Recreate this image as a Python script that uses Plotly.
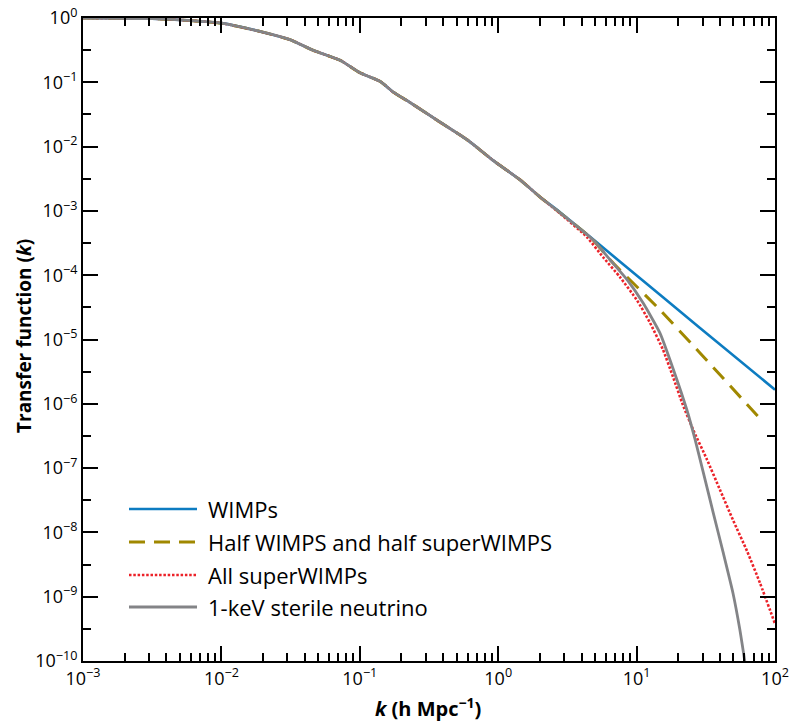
import plotly.graph_objects as go

# ---- data (log10 values) ----
common_logk = [-3.0, -2.5, -2.3, -2.0, -1.7, -1.5, -1.34, -1.14, -1.0, -0.85, -0.76,
               -0.64, -0.42, -0.22, -0.04, 0.16, 0.30]
common_logT = [0.0, -0.01, -0.03, -0.08, -0.22, -0.34, -0.50, -0.66, -0.85, -0.99, -1.15,
               -1.31, -1.62, -1.90, -2.21, -2.52, -2.78]

wimp_logk = [0.447, 0.931, 1.458, 2.0]
wimp_logT = [-3.02, -3.88, -4.82, -5.78]

half_logk = [0.447, 0.685, 0.808, 0.880, 1.169, 1.458, 1.913]
half_logT = [-3.03, -3.45, -3.76, -3.92, -4.54, -5.21, -6.28]

super_logk = [0.447, 0.642, 0.758, 0.880, 1.003, 1.097, 1.191, 1.263, 1.335, 1.408, 1.509,
              1.603, 1.697, 1.798, 1.892, 2.0]
super_logT = [-3.04, -3.41, -3.72, -4.03, -4.39, -4.74, -5.16, -5.58, -6.02, -6.40, -6.87,
              -7.34, -7.81, -8.29, -8.79, -9.42]

sterile_logk = [0.447, 0.685, 0.808, 0.931, 1.046, 1.169, 1.263, 1.364, 1.422, 1.480, 1.552,
                1.624, 1.697, 1.745, 1.785]
sterile_logT = [-3.03, -3.45, -3.76, -4.07, -4.43, -4.90, -5.45, -6.10, -6.55, -7.05, -7.68,
                -8.30, -8.95, -9.50, -10.05]

series_names = ["WIMPs", "Half WIMPS and half superWIMPS", "All superWIMPs", "1-keV sterile neutrino"]
series_colors = ["#0d7cc1", "#a08800", "#ec2229", "#838487"]
series_dash = ["solid", "16px,9px", "2.5px,1.8px", "solid"]
series_width = [2.6, 3.0, 2.6, 2.8]

x_tick_exps = [-3, -2, -1, 0, 1, 2]
y_tick_exps = [0, -1, -2, -3, -4, -5, -6, -7, -8, -9, -10]

FONT = "Open Sans"


def pw(vals):
    return [10 ** v for v in vals]


series = [
    (common_logk + wimp_logk, common_logT + wimp_logT),
    (common_logk + half_logk, common_logT + half_logT),
    (common_logk + super_logk, common_logT + super_logT),
    (common_logk + sterile_logk, common_logT + sterile_logT),
]

fig = go.Figure()
for (lk, lt), name, col, dash, w in zip(series, series_names, series_colors, series_dash, series_width):
    fig.add_trace(go.Scatter(x=pw(lk), y=pw(lt), mode="lines", name=name,
                             line=dict(color=col, dash=dash, width=w, shape="spline", smoothing=0.5),
                             showlegend=False))


def lbl(e):
    s = str(e).replace("-", "\u2212")
    return "10<sup>" + s + "</sup>"


x_minor = [m * 10 ** e for e in range(-3, 2) for m in range(2, 10)]
y_minor = [10 ** (e - 0.5) for e in range(0, -10, -1)]

common_axis = dict(type="log", ticks="inside", ticklen=15, tickwidth=2, tickcolor="black",
                   showline=True, linecolor="black", linewidth=2, mirror="ticks",
                   showgrid=False, zeroline=False, automargin=False,
                   tickfont=dict(family=FONT, size=18, color="black"))

fig.update_xaxes(range=[-3, 2],
                 tickvals=[10 ** e for e in x_tick_exps], ticktext=[lbl(e) for e in x_tick_exps],
                 minor=dict(tickvals=x_minor, ticks="inside", ticklen=8, tickwidth=2,
                            tickcolor="black", showgrid=False),
                 **common_axis)
fig.update_yaxes(range=[-10, 0],
                 tickvals=[10 ** e for e in y_tick_exps], ticktext=[lbl(e) for e in y_tick_exps],
                 minor=dict(tickvals=y_minor, ticks="inside", ticklen=8, tickwidth=2,
                            tickcolor="black", showgrid=False),
                 **common_axis)

# manual legend
legend_rows = [509, 542, 575, 607]
annotations = []
shapes = []
plot_l, plot_r, plot_t, plot_b = 83, 775, 18, 661
W, H = 789, 723


def px_to_paper_x(px):
    return (px - plot_l) / (plot_r - plot_l)


def px_to_paper_y(py):
    return (plot_b - py) / (plot_b - plot_t)


for yrow, name, col, dash, w in zip(legend_rows, series_names, series_colors, series_dash, series_width):
    shapes.append(dict(type="line", xref="paper", yref="paper",
                       x0=px_to_paper_x(129), x1=px_to_paper_x(197),
                       y0=px_to_paper_y(yrow), y1=px_to_paper_y(yrow),
                       line=dict(color=col, width=w, dash=dash)))
    annotations.append(dict(xref="paper", yref="paper", x=px_to_paper_x(206), y=px_to_paper_y(yrow),
                            text=name, showarrow=False, xanchor="left", yanchor="middle",
                            font=dict(family=FONT, size=22, color="black")))

annotations.append(dict(xref="paper", yref="paper", x=px_to_paper_x(24), y=px_to_paper_y(336),
                        text="<b>Transfer function (<i>k</i>)</b>", textangle=-90, showarrow=False,
                        xanchor="center", yanchor="middle",
                        font=dict(family=FONT, size=19, color="black")))
annotations.append(dict(xref="paper", yref="paper", x=px_to_paper_x(428), y=px_to_paper_y(707),
                        text="<b><i>k</i> (h Mpc<sup>\u22121</sup>)</b>", showarrow=False,
                        xanchor="center", yanchor="middle",
                        font=dict(family=FONT, size=20, color="black")))

fig.update_layout(width=W, height=H,
                  margin=dict(l=plot_l, r=W - plot_r, t=plot_t, b=H - plot_b, autoexpand=False),
                  paper_bgcolor="white", plot_bgcolor="white",
                  shapes=shapes, annotations=annotations, showlegend=False)

fig.write_html("out.html", config={"displayModeBar": False},
               post_script="document.body.style.margin='0px';document.body.style.padding='0px';"
                           "document.body.style.overflow='hidden';")
